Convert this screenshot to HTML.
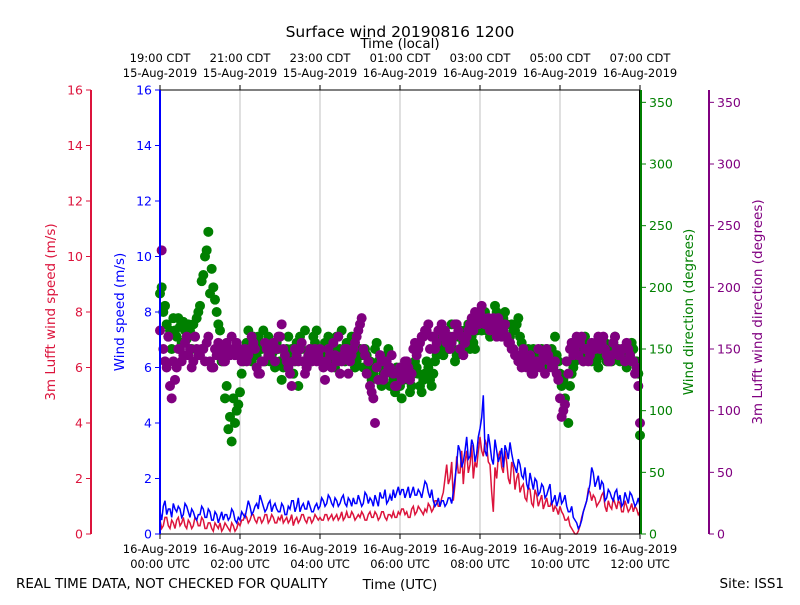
<!DOCTYPE html>
<html><head><meta charset="utf-8"><style>
body{margin:0;background:#fff;}
svg{font-family:"DejaVu Sans","Liberation Sans",sans-serif;}
</style></head><body>
<svg id="c" width="800" height="600" xmlns="http://www.w3.org/2000/svg"></svg>
<script>
const blueSpeed=[0.8,1.0,0.7,0.9,1.1,0.8,0.9,0.7,1.0,0.6,0.8,0.5,
0.7,0.9,0.6,0.8,0.5,0.7,0.6,0.5,0.7,0.6,0.8,0.4,
0.5,0.7,0.9,1.0,0.8,1.1,1.4,1.0,0.9,1.2,1.0,0.9,
0.8,1.0,0.7,0.9,1.2,1.0,0.8,1.1,0.9,1.0,0.8,1.1,
1.0,1.2,1.1,1.3,1.0,1.2,1.1,1.4,1.0,1.2,1.3,1.1,
1.2,1.1,1.4,1.3,1.0,1.2,1.5,1.3,1.1,1.4,1.6,1.5,
1.4,1.6,1.5,1.3,1.7,1.4,1.5,1.6,1.8,1.3,1.2,1.1,
1.0,1.2,1.1,1.3,1.5,2.5,3.0,2.6,3.5,2.8,3.2,2.9,
3.8,5.0,2.8,3.2,2.5,3.0,2.8,2.4,3.0,3.3,2.6,2.2,
2.5,2.0,1.8,2.2,1.6,1.9,1.5,1.7,1.4,1.8,1.2,1.0,
1.5,1.2,1.0,0.8,0.6,0.4,0.3,0.8,1.2,1.8,2.2,1.9,
1.6,1.8,1.3,1.5,1.2,1.6,1.4,1.1,1.3,1.5,1.2,1.1,1.0];
const blueSpeedMid=[0.5,1.2,0.9,0.6,0.9,1.0,0.6,1.1,0.8,0.9,0.6,0.7,
1.0,0.6,0.9,0.5,0.8,0.4,0.8,0.7,0.5,0.9,0.5,0.6,
0.8,0.6,1.2,0.7,1.0,0.9,1.2,0.8,1.1,0.8,1.1,0.8,
1.1,0.7,1.0,1.2,0.8,1.3,1.0,0.9,1.2,0.8,1.0,0.9,
1.3,1.0,1.4,1.1,1.3,1.0,1.3,1.1,1.3,1.0,1.1,1.4,
1.0,1.5,1.1,1.2,1.4,1.0,1.3,1.6,1.2,1.2,1.3,1.7,
1.6,1.3,1.7,1.5,1.4,1.6,1.3,1.9,1.5,1.6,1.0,1.3,
1.2,1.0,1.3,1.1,2.0,3.2,2.4,3.0,2.7,3.4,2.6,3.5,
4.2,3.0,3.6,2.7,3.4,2.6,3.1,3.2,2.7,2.9,2.4,2.7,
2.1,2.4,1.6,1.9,2.0,1.4,1.8,1.3,1.6,1.1,1.4,1.2,
1.1,1.4,0.8,1.0,0.5,0.2,0.5,1.0,1.5,2.4,1.7,2.1,
1.9,1.2,1.6,1.3,1.5,1.2,1.0,1.5,1.1,1.4,1.0,1.3];
const redSpeed=[0.5,0.3,0.6,0.2,0.4,0.5,0.3,0.6,0.2,0.4,0.3,0.5,
0.3,0.5,0.2,0.4,0.1,0.3,0.4,0.2,0.3,0.1,0.3,0.2,
0.3,0.5,0.6,0.5,0.7,0.4,0.6,0.5,0.7,0.5,0.6,0.4,
0.5,0.4,0.6,0.5,0.3,0.6,0.5,0.7,0.4,0.6,0.5,0.6,
0.6,0.5,0.7,0.6,0.5,0.7,0.6,0.5,0.8,0.6,0.7,0.6,
0.6,0.7,0.5,0.8,0.6,0.7,0.6,0.8,0.5,0.7,0.8,0.6,
0.7,0.9,0.8,0.6,1.0,0.8,0.9,0.7,0.8,1.0,0.9,1.2,
1.0,1.5,2.5,2.0,1.2,2.8,2.2,1.8,3.0,2.5,2.0,2.4,
3.5,2.8,3.2,2.5,0.8,2.0,3.0,2.2,2.6,1.8,2.4,2.0,
1.5,1.8,1.2,1.6,1.0,1.4,1.2,0.9,1.3,1.0,0.8,0.9,
1.0,0.7,0.5,0.3,0.1,0.0,0.3,0.8,1.2,1.5,1.4,1.0,
1.2,1.5,0.8,1.0,1.3,0.9,1.1,0.8,1.0,0.9,0.8,0.9,0.8];
const redSpeedMid=[0.2,0.6,0.3,0.5,0.2,0.6,0.4,0.3,0.5,0.2,0.6,0.3,
0.6,0.2,0.4,0.2,0.4,0.2,0.1,0.4,0.2,0.4,0.1,0.4,
0.5,0.7,0.4,0.7,0.5,0.6,0.4,0.7,0.4,0.7,0.4,0.6,
0.7,0.5,0.4,0.7,0.5,0.4,0.7,0.5,0.6,0.4,0.7,0.5,
0.5,0.7,0.5,0.7,0.6,0.5,0.8,0.6,0.6,0.8,0.5,0.7,
0.8,0.5,0.7,0.6,0.8,0.5,0.8,0.6,0.7,0.6,0.6,0.8,
0.9,0.7,0.6,0.9,0.7,1.0,0.8,0.9,1.1,0.8,1.2,1.0,
1.3,2.0,1.8,2.6,1.8,2.2,3.0,2.6,2.2,3.2,2.6,3.0,
3.0,3.4,2.6,1.5,2.4,2.8,2.4,3.0,2.0,2.6,1.6,2.2,
1.7,1.3,1.7,1.1,1.6,1.0,1.4,1.1,1.0,1.2,1.0,0.7,
0.8,0.5,0.6,0.2,0.0,0.1,0.6,1.0,1.6,1.2,1.3,1.1,
1.4,1.0,1.2,0.9,1.1,1.2,0.8,1.2,0.8,1.1,1.0,0.7];
const greenDir=[195,180,170,165,175,160,168,172,158,165,170,175,
185,210,230,195,200,180,165,150,120,95,110,100,
115,140,155,150,160,145,155,165,150,140,148,155,
140,135,150,145,130,155,160,140,135,150,160,165,
150,145,155,140,150,160,150,145,155,150,145,140,
150,135,145,140,130,155,140,130,145,120,125,135,
120,125,130,115,130,135,120,125,140,125,130,145,
150,145,155,160,150,145,165,155,160,150,155,165,
170,175,165,160,170,180,165,175,170,160,165,170,
160,150,145,140,150,135,140,145,150,140,135,145,
130,125,140,120,135,150,145,140,155,150,145,140,
150,145,140,150,155,145,140,150,135,145,150,140,80];
const greenDirMid=[200,185,160,150,165,175,155,165,170,150,160,180,
205,225,245,215,190,170,140,110,85,75,90,105,
130,145,165,140,155,160,150,140,160,145,135,150,
125,145,160,150,140,120,150,165,145,140,155,150,
140,155,160,150,135,145,165,140,150,160,135,150,
145,150,135,125,150,140,120,135,150,130,115,125,
110,130,125,120,140,130,115,130,135,120,140,150,
160,155,150,170,140,160,150,165,170,160,150,170,
165,180,175,170,185,165,175,180,160,170,165,175,
155,140,150,130,145,140,150,135,145,150,160,140,
120,110,90,130,140,155,150,160,145,140,150,135,
145,155,150,140,160,150,145,140,150,155,140,130];
const purpleDir=[165,150,135,120,140,135,150,145,160,150,140,150,
145,150,155,140,135,145,150,140,155,145,150,155,
150,145,140,150,155,135,130,140,150,145,155,150,
160,150,140,130,140,145,150,140,135,150,145,140,
150,135,140,145,155,140,130,145,150,140,150,160,
170,150,130,120,110,135,145,125,140,135,130,120,
135,130,140,125,150,145,155,160,165,150,160,155,
165,160,155,150,160,170,150,145,160,170,165,175,
180,175,170,165,175,160,170,165,160,155,150,145,
140,150,135,145,130,140,135,145,150,140,135,130,
110,100,140,150,145,160,155,140,150,145,150,155,
150,160,145,140,155,150,145,150,155,145,140,135,90];
const purpleDirMid=[230,140,160,110,125,150,140,155,145,135,160,145,
150,140,160,135,150,155,145,140,150,160,145,150,
140,150,145,160,150,130,140,155,145,150,140,160,
170,145,135,120,150,140,155,130,145,140,150,145,
140,125,150,135,145,160,140,150,130,145,155,165,
175,145,140,115,90,125,140,130,135,145,120,130,
125,140,135,130,155,150,160,165,170,160,150,165,
170,165,160,155,170,165,160,155,165,175,180,170,
185,170,175,170,165,175,160,170,155,150,145,140,
135,145,140,130,135,150,140,130,145,135,140,125,
95,105,130,155,150,145,160,150,140,155,150,160,
155,150,140,145,160,145,150,140,150,140,130,120];
const speedTicks=[0,2,4,6,8,10,12,14,16];
const dirTicks=[0,50,100,150,200,250,300,350];
const localLabels=["19:00 CDT","21:00 CDT","23:00 CDT","01:00 CDT","03:00 CDT","05:00 CDT","07:00 CDT"];
const localDates=["15-Aug-2019","15-Aug-2019","15-Aug-2019","16-Aug-2019","16-Aug-2019","16-Aug-2019","16-Aug-2019"];
const utcLabels=["00:00 UTC","02:00 UTC","04:00 UTC","06:00 UTC","08:00 UTC","10:00 UTC","12:00 UTC"];
const X0=160,X1=640,Y0=534,Y1=90;
const xs=h=>X0+(X1-X0)*h/12;
const ys=v=>Y0-(Y0-Y1)*v/16;
const yd=v=>Y0-(Y0-Y1)*v/360;
const svg=document.getElementById('c');
const NS="http://www.w3.org/2000/svg";
function mk(t,a,txt){const e=document.createElementNS(NS,t);for(const k in a)e.setAttribute(k,a[k]);if(txt!==undefined)e.textContent=txt;svg.appendChild(e);return e;}
let e;
for(let i=0;i<7;i++){e=mk('line',{x1:xs(i*2),x2:xs(i*2),y1:Y1,y2:Y0,stroke:'#b0b0b0','stroke-width':0.8});

}
function merged(a,b){const out=[];for(let i=0;i<a.length;i++){out.push([i/12,a[i]]);if(i<b.length)out.push([(i+0.5)/12,b[i]]);}return out;}
function scatter(pts,col,name){pts.forEach(p=>{e=mk('circle',{cx:xs(p[0]),cy:yd(p[1]),r:5,fill:col});

});}
scatter(merged(greenDir,greenDirMid),'#008000','wind-direction-point');
scatter(merged(purpleDir,purpleDirMid),'#800080','lufft-direction-point');
function line(pts,col,name){const p=pts.map(q=>xs(q[0]).toFixed(1)+','+ys(q[1]).toFixed(1)).join(' ');
e=mk('polyline',{points:p,fill:'none',stroke:col,'stroke-width':1.5});

}
line(merged(redSpeed,redSpeedMid),'#dc143c','lufft-speed-line');
line(merged(blueSpeed,blueSpeedMid),'#0000ff','wind-speed-line');
mk('line',{x1:X0,x2:X1,y1:Y1,y2:Y1,stroke:'#000','stroke-width':1});
mk('line',{x1:X0,x2:X1,y1:Y0,y2:Y0,stroke:'#000','stroke-width':1});
function vaxis(x,col,ticks,sc,side,name){e=mk('line',{x1:x,x2:x,y1:Y1,y2:Y0,stroke:col,'stroke-width':2});


ticks.forEach(t=>{const y=sc(t);mk('line',{x1:x,x2:x+side*5,y1:y,y2:y,stroke:col,'stroke-width':1});
e=mk('text',{x:x+side*8,y:y+4.5,fill:col,'font-size':12.5,'text-anchor':side<0?'end':'start'},String(t));

});}
vaxis(91,'#dc143c',speedTicks,ys,-1,'lufft-speed-axis');
vaxis(X0,'#0000ff',speedTicks,ys,-1,'wind-speed-axis');
vaxis(X1,'#000',[],yd,1,'direction-axis-line');
vaxis(X1+1,'#008000',dirTicks,yd,1,'wind-direction-axis');
vaxis(709,'#800080',dirTicks,yd,1,'lufft-direction-axis');
for(let i=0;i<7;i++){const x=xs(i*2);
mk('line',{x1:x,x2:x,y1:Y0,y2:Y0+5,stroke:'#000'});mk('line',{x1:x,x2:x,y1:Y1,y2:Y1-5,stroke:'#000'});
e=mk('text',{x:x,y:553,'font-size':11.5,'text-anchor':'middle'},'16-Aug-2019');
e=mk('text',{x:x,y:568,'font-size':11.5,'text-anchor':'middle'},utcLabels[i]);
e=mk('text',{x:x,y:62,'font-size':11.5,'text-anchor':'middle'},localLabels[i]);
e=mk('text',{x:x,y:77,'font-size':11.5,'text-anchor':'middle'},localDates[i]);}
function txt(x,y,s,name,opt){e=mk('text',Object.assign({x:x,y:y,'text-anchor':'middle','font-size':13.5},opt||{}),s);

}
txt(400,37,'Surface wind 20190816 1200','chart-title',{'font-size':15.5});
txt(400,48,'Time (local)','top-axis-title');
txt(400,589,'Time (UTC)','x-axis-title');
txt(16,588,'REAL TIME DATA, NOT CHECKED FOR QUALITY','quality-note',{'text-anchor':'start'});
txt(784,588,'Site: ISS1','site-label',{'text-anchor':'end'});
txt(55,312,'3m Lufft wind speed (m/s)','lufft-speed-title',{fill:'#dc143c',transform:'rotate(-90 55 312)'});
txt(124,312,'Wind speed (m/s)','wind-speed-title',{fill:'#0000ff',transform:'rotate(-90 124 312)'});
txt(693,312,'Wind direction (degrees)','wind-direction-title',{fill:'#008000',transform:'rotate(-90 693 312)'});
txt(762,312,'3m Lufft wind direction (degrees)','lufft-direction-title',{fill:'#800080',transform:'rotate(-90 762 312)'});
</script>
</body></html>
